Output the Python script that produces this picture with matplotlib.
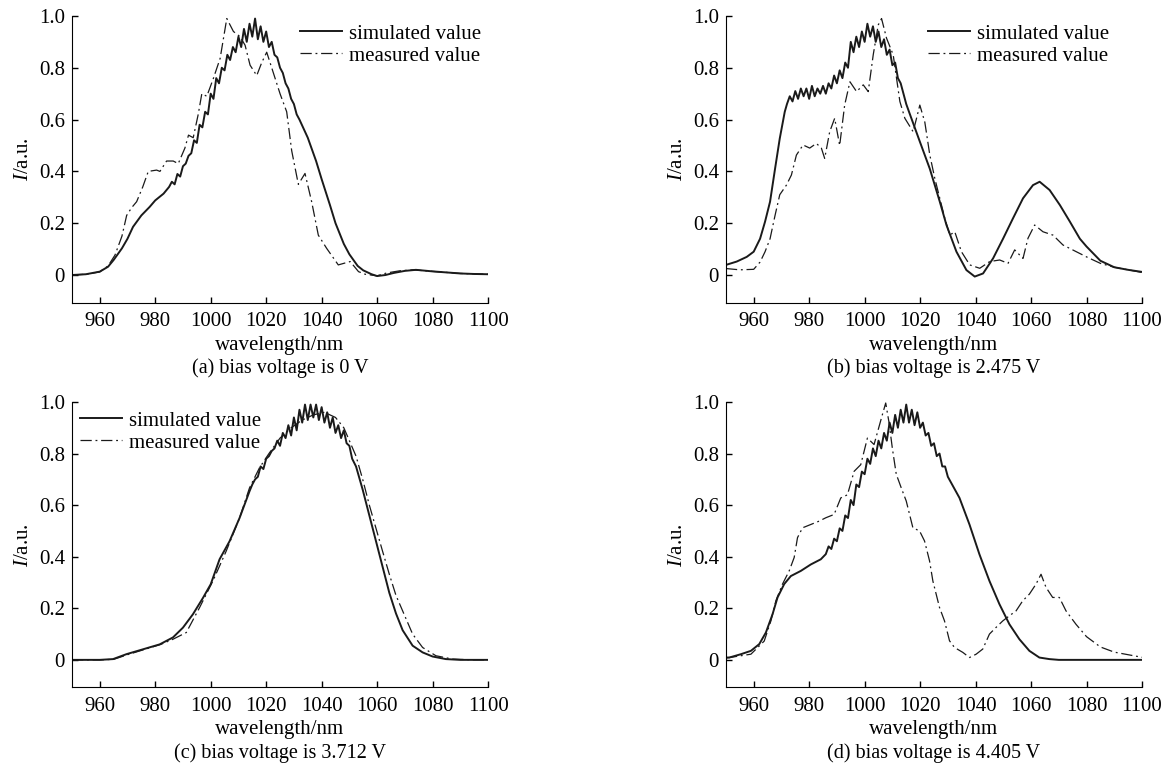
import matplotlib
matplotlib.use("Agg")
import matplotlib.pyplot as plt

plt.rcParams["font.family"] = "Liberation Serif"
plt.rcParams["mathtext.fontset"] = "custom"
plt.rcParams["mathtext.rm"] = "Liberation Serif"
plt.rcParams["mathtext.it"] = "Liberation Serif:italic"

# ---- data (wavelength in nm, normalised intensity) ----
a_sim_x = [950, 955, 960, 963, 965, 968, 970, 972, 975, 978, 980, 983,
           985, 986, 987, 988, 989, 990, 991, 992, 993, 994, 995, 996, 997, 998, 999,
           1000, 1001, 1002, 1003, 1004, 1005, 1006, 1007, 1008, 1009, 1010, 1011, 1012,
           1013, 1014, 1015, 1016, 1017, 1018, 1019, 1020, 1021, 1022, 1023, 1024, 1025,
           1026, 1027, 1028, 1029, 1030, 1031, 1032,
           1035, 1038, 1040, 1043, 1045, 1048, 1050, 1053, 1055, 1058, 1060, 1063, 1066,
           1070, 1074, 1080, 1085, 1090, 1095, 1100]
a_sim_y = [0, 0.003, 0.013, 0.032, 0.058, 0.103, 0.14, 0.186, 0.23, 0.263, 0.288, 0.314,
           0.34, 0.36, 0.35, 0.39, 0.38, 0.42, 0.43, 0.46, 0.47, 0.52, 0.51, 0.58, 0.57, 0.63, 0.62,
           0.70, 0.68, 0.76, 0.74, 0.80, 0.79, 0.85, 0.83, 0.88, 0.86, 0.92, 0.88, 0.95,
           0.90, 0.97, 0.92, 0.99, 0.91, 0.96, 0.90, 0.94, 0.88, 0.90, 0.85, 0.84, 0.80,
           0.78, 0.74, 0.72, 0.68, 0.66, 0.62, 0.60,
           0.53, 0.44, 0.37, 0.27, 0.20, 0.12, 0.08, 0.035, 0.018, 0.003, -0.004, 0.0, 0.008,
           0.016, 0.02, 0.014, 0.01, 0.006, 0.004, 0.003]
a_mea_x = [950, 955, 960, 963, 965.5, 968, 969.7, 971.5, 973.3, 975.5, 977.5, 980.5, 981.7, 984.1,
           986.5, 988.3, 990.7, 992, 993.7, 995.5, 996.8, 998.6, 1001, 1003.4, 1005.8, 1008.2, 1010.6,
           1012.4, 1014.2, 1016.6, 1018.4, 1020.2, 1022.6, 1025, 1027.4, 1029.2, 1031.6, 1034, 1036.4,
           1038.8, 1041.8, 1046, 1050.3, 1053.3, 1055.7, 1060, 1063.5, 1068, 1073, 1080, 1090, 1100]
a_mea_y = [0, 0.003, 0.012, 0.035, 0.077, 0.15, 0.23, 0.26, 0.283, 0.34, 0.40, 0.405, 0.40, 0.44,
           0.44, 0.43, 0.49, 0.54, 0.53, 0.62, 0.70, 0.69, 0.76, 0.836, 0.99, 0.94, 0.92, 0.887, 0.81,
           0.77, 0.82, 0.86, 0.78, 0.70, 0.63, 0.48, 0.35, 0.392, 0.283, 0.154, 0.103, 0.039, 0.052,
           0.013, 0.003, -0.003, 0.008, 0.016, 0.02, 0.014, 0.006, 0.003]

b_sim_x = [950, 953.9, 957.5, 960, 962.3, 964.1, 965.9, 967.7, 969.4, 971.2,
           972, 973, 974, 975, 976, 977, 978, 979, 980, 981, 982, 983, 984, 985, 986, 987, 988,
           989, 990, 991, 992, 993, 994, 995, 996, 997, 998, 999, 1000, 1001, 1002, 1003, 1004,
           1005, 1006, 1007, 1008, 1009, 1010, 1011, 1012, 1013, 1014, 1015, 1016,
           1019.9, 1023.5, 1027.1, 1029.5, 1033.1, 1036.7, 1039.7, 1042.7, 1046.3, 1049.9, 1053.5,
           1057.1, 1060.7, 1063.1, 1066.7, 1070.4, 1074, 1077.6, 1080, 1085, 1090, 1095, 1100]
b_sim_y = [0.039, 0.052, 0.07, 0.09, 0.14, 0.206, 0.283, 0.41, 0.527, 0.63,
           0.66, 0.69, 0.67, 0.71, 0.68, 0.72, 0.69, 0.72, 0.68, 0.73, 0.69, 0.72, 0.70, 0.73, 0.70,
           0.74, 0.72, 0.77, 0.74, 0.79, 0.76, 0.82, 0.80, 0.90, 0.86, 0.92, 0.88, 0.94, 0.90, 0.97,
           0.92, 0.96, 0.90, 0.94, 0.88, 0.91, 0.85, 0.87, 0.81, 0.82, 0.76, 0.74, 0.70, 0.66, 0.63,
           0.515, 0.41, 0.283, 0.193, 0.09, 0.019, -0.006, 0.006, 0.064, 0.14, 0.219,
           0.296, 0.347, 0.36, 0.328, 0.27, 0.206, 0.14, 0.11, 0.055, 0.03, 0.02, 0.012]
b_mea_x = [950, 955, 960, 962.3, 964.1, 965.9, 967.7, 969.4, 971.8, 973.6, 975.4, 977.8, 980.2,
           982.6, 984.4, 985.6, 987.4, 989.2, 991, 992.8, 994.7, 997.1, 999.5, 1001.3, 1003.1, 1004.9,
           1006.1, 1007.9, 1010.3, 1012.7, 1014.5, 1017.5, 1019.9, 1021.7, 1023.5, 1025.3, 1027.1,
           1028.9, 1030.7, 1032.5, 1034.9, 1037.9, 1041.5, 1045.1, 1048.7, 1051.7, 1054.1, 1057.1,
           1058.9, 1061.3, 1064.3, 1067.9, 1071.5, 1076.3, 1080, 1085, 1090, 1095, 1100]
b_mea_y = [0.025, 0.02, 0.022, 0.05, 0.09, 0.14, 0.23, 0.31, 0.347, 0.386, 0.463, 0.502, 0.49,
           0.508, 0.49, 0.45, 0.553, 0.605, 0.50, 0.656, 0.746, 0.708, 0.734, 0.708, 0.85, 0.965,
           0.99, 0.914, 0.85, 0.67, 0.605, 0.553, 0.656, 0.59, 0.463, 0.373, 0.296, 0.219, 0.154,
           0.167, 0.09, 0.039, 0.026, 0.052, 0.058, 0.045, 0.097, 0.064, 0.142, 0.193, 0.167, 0.154,
           0.116, 0.09, 0.07, 0.045, 0.03, 0.02, 0.01]

c_sim_x = [950, 960, 964.8, 969.6, 975.6, 981.6, 986.4, 990, 993.6, 997.2, 1000, 1003.2, 1006.8,
           1010.4, 1014, 1015, 1016, 1017, 1018, 1019, 1020, 1021, 1022, 1023, 1024, 1025, 1026,
           1027, 1028, 1029, 1030, 1031, 1032, 1033, 1034, 1035, 1036, 1037, 1038, 1039, 1040,
           1041, 1042, 1043, 1044, 1045, 1046, 1047, 1048, 1049, 1050, 1051,
           1052.4, 1054.8, 1057.2, 1059.6, 1062, 1064.4, 1066.8, 1069.2, 1072.8, 1076.4, 1080,
           1084.8, 1090, 1100]
c_sim_y = [0, 0, 0.003, 0.022, 0.041, 0.06, 0.087, 0.125, 0.177, 0.24, 0.293, 0.39, 0.46, 0.55,
           0.654, 0.68, 0.70, 0.71, 0.75, 0.74, 0.78, 0.79, 0.81, 0.82, 0.85, 0.83, 0.88,
           0.86, 0.91, 0.87, 0.94, 0.89, 0.97, 0.92, 0.99, 0.93, 0.99, 0.94, 0.99, 0.93, 0.98,
           0.92, 0.96, 0.90, 0.94, 0.88, 0.91, 0.86, 0.89, 0.84, 0.83, 0.78,
           0.75, 0.66, 0.56, 0.46, 0.36, 0.26, 0.18, 0.115, 0.055, 0.029, 0.013,
           0.003, 0.0, 0.0]
c_mea_x = [950, 960, 965, 970, 976, 982, 986.4, 991.2, 996, 1000.8, 1005.6, 1010.4, 1014, 1017.6,
           1021, 1025, 1029, 1033, 1037, 1041, 1045, 1048, 1050, 1052.4, 1054.8, 1057.2, 1059.6,
           1062, 1064.4, 1066.8, 1069.2, 1072.8, 1076.4, 1081.2, 1087.2, 1095, 1100]
c_mea_y = [0, 0, 0.002, 0.02, 0.04, 0.06, 0.08, 0.106, 0.203, 0.306, 0.422, 0.55, 0.667, 0.745,
           0.80, 0.86, 0.90, 0.93, 0.95, 0.96, 0.94, 0.90, 0.85, 0.79, 0.70, 0.60, 0.51, 0.42, 0.332,
           0.25, 0.19, 0.10, 0.048, 0.016, 0.003, 0.0, 0.0]

d_sim_x = [950, 951.2, 955.4, 959, 962, 964.4, 966.8, 968.6, 971, 973.4, 977, 980.6, 984.2,
           986, 987, 988, 989, 990, 991, 992, 993, 994, 995, 996, 997, 998, 999, 1000, 1001, 1002,
           1003, 1004, 1005, 1006, 1007, 1008, 1009, 1010, 1011, 1012, 1013, 1014, 1015, 1016, 1017,
           1018, 1019, 1020, 1021, 1022, 1023, 1024, 1025, 1026, 1027, 1028, 1029, 1030,
           1034.2, 1037.8, 1041.4, 1045, 1048.6, 1052.2, 1055.8, 1059.4, 1063,
           1066.6, 1070, 1080, 1090, 1100]
d_sim_y = [0.008, 0.009, 0.022, 0.035, 0.061, 0.106, 0.177, 0.242, 0.294, 0.325, 0.345, 0.37, 0.39,
           0.41, 0.44, 0.43, 0.47, 0.46, 0.51, 0.50, 0.56, 0.55, 0.62, 0.60, 0.68, 0.67, 0.73, 0.72,
           0.78, 0.76, 0.82, 0.79, 0.85, 0.82, 0.88, 0.85, 0.92, 0.88, 0.95, 0.90, 0.97, 0.92, 0.99,
           0.92, 0.97, 0.91, 0.96, 0.90, 0.92, 0.87, 0.88, 0.83, 0.84, 0.79, 0.80, 0.75, 0.75, 0.71,
           0.628, 0.525, 0.409, 0.306, 0.216, 0.138, 0.08, 0.035, 0.009,
           0.003, 0, 0, 0, 0]
d_mea_x = [950, 951.2, 959, 963.8, 966.2, 968, 970.4, 972.8, 974.6, 975.8, 977.6, 980.6, 983.6, 986,
           989, 991.4, 993.8, 996.2, 998.6, 1001, 1003.4, 1006.4, 1007.6, 1008.8, 1010, 1011.4,
           1013.2, 1015, 1016.2, 1017.4, 1019.8, 1021.6, 1023.4, 1024.6, 1027, 1028.8, 1030.6,
           1032.4, 1035.4, 1037.8, 1040.2, 1042.6, 1045, 1047.4, 1049.8, 1052.2, 1054.6, 1057,
           1059.4, 1061.8, 1063.6, 1065.4, 1067.8, 1070.2, 1072.6, 1076.2, 1080, 1085, 1090, 1095,
           1100]
d_mea_y = [0.01, 0.009, 0.022, 0.073, 0.151, 0.229, 0.294, 0.345, 0.397, 0.474, 0.512, 0.525,
           0.538, 0.551, 0.564, 0.628, 0.64, 0.731, 0.757, 0.86, 0.835, 0.951, 0.996, 0.92, 0.82,
           0.72, 0.667, 0.616, 0.564, 0.512, 0.5, 0.461, 0.384, 0.306, 0.203, 0.151, 0.074, 0.048,
           0.029, 0.009, 0.022, 0.042, 0.1, 0.126, 0.151, 0.171, 0.19, 0.229, 0.255, 0.294, 0.332,
           0.281, 0.242, 0.242, 0.19, 0.138, 0.09, 0.05, 0.03, 0.02, 0.01]

captions = ["(a) bias voltage is 0 V", "(b) bias voltage is 2.475 V",
            "(c) bias voltage is 3.712 V", "(d) bias voltage is 4.405 V"]
xticks = [960, 980, 1000, 1020, 1040, 1060, 1080, 1100]
yticks = [0, 0.2, 0.4, 0.6, 0.8, 1.0]
ytick_labels = ["0", "0.2", "0.4", "0.6", "0.8", "1.0"]

panels = [(a_sim_x, a_sim_y, a_mea_x, a_mea_y),
          (b_sim_x, b_sim_y, b_mea_x, b_mea_y),
          (c_sim_x, c_sim_y, c_mea_x, c_mea_y),
          (d_sim_x, d_sim_y, d_mea_x, d_mea_y)]

# axes boxes in figure fraction [left, bottom, width, height]
boxes = [[0.0616, 0.6053, 0.3559, 0.3739],
         [0.6210, 0.6053, 0.3559, 0.3739],
         [0.0616, 0.1037, 0.3559, 0.3722],
         [0.6210, 0.1037, 0.3559, 0.3722]]
legend_anchor = [(0.548, 0.972), (0.486, 0.972), (0.02, 0.968), None]

dashdot = (0, (9, 3, 1.5, 3))
fs = 15

fig = plt.figure(figsize=(11.69, 7.67), dpi=100)
for i, (sx, sy, mx, my) in enumerate(panels):
    ax = fig.add_axes(boxes[i])
    ax.plot(sx, sy, color="#1a1a1a", lw=1.4, label="simulated value")
    ax.plot(mx, my, color="#1a1a1a", lw=0.9, linestyle=dashdot, label="measured value")
    ax.set_xlim(950, 1100)
    ax.set_ylim(-0.107, 1.0)
    ax.set_xticks(xticks)
    ax.set_yticks(yticks)
    ax.set_yticklabels(ytick_labels)
    ax.tick_params(direction="in", length=4, width=1, labelsize=fs)
    ax.tick_params(axis="x", pad=7)
    ax.tick_params(axis="y", pad=5)
    for side in ["top", "right"]:
        ax.spines[side].set_visible(False)
    ax.set_ylabel("$I$/a.u.", fontsize=fs, labelpad=4)
    # x label and caption placed by offset (points) below the bottom spine
    ax.annotate("wavelength/nm", xy=(0.5, 0), xycoords="axes fraction",
                xytext=(0, -30.5), textcoords="offset points",
                ha="center", va="center", fontsize=fs)
    ax.annotate(captions[i], xy=(0.5, 0), xycoords="axes fraction",
                xytext=(0, -47), textcoords="offset points",
                ha="center", va="center", fontsize=14.5)
    if legend_anchor[i] is not None:
        ax.legend(loc="upper left", bbox_to_anchor=legend_anchor[i], frameon=False, fontsize=fs,
                  borderpad=0, borderaxespad=0, handlelength=2.0, handletextpad=0.35,
                  labelspacing=0.12)

fig.savefig("out.png", dpi=100)
